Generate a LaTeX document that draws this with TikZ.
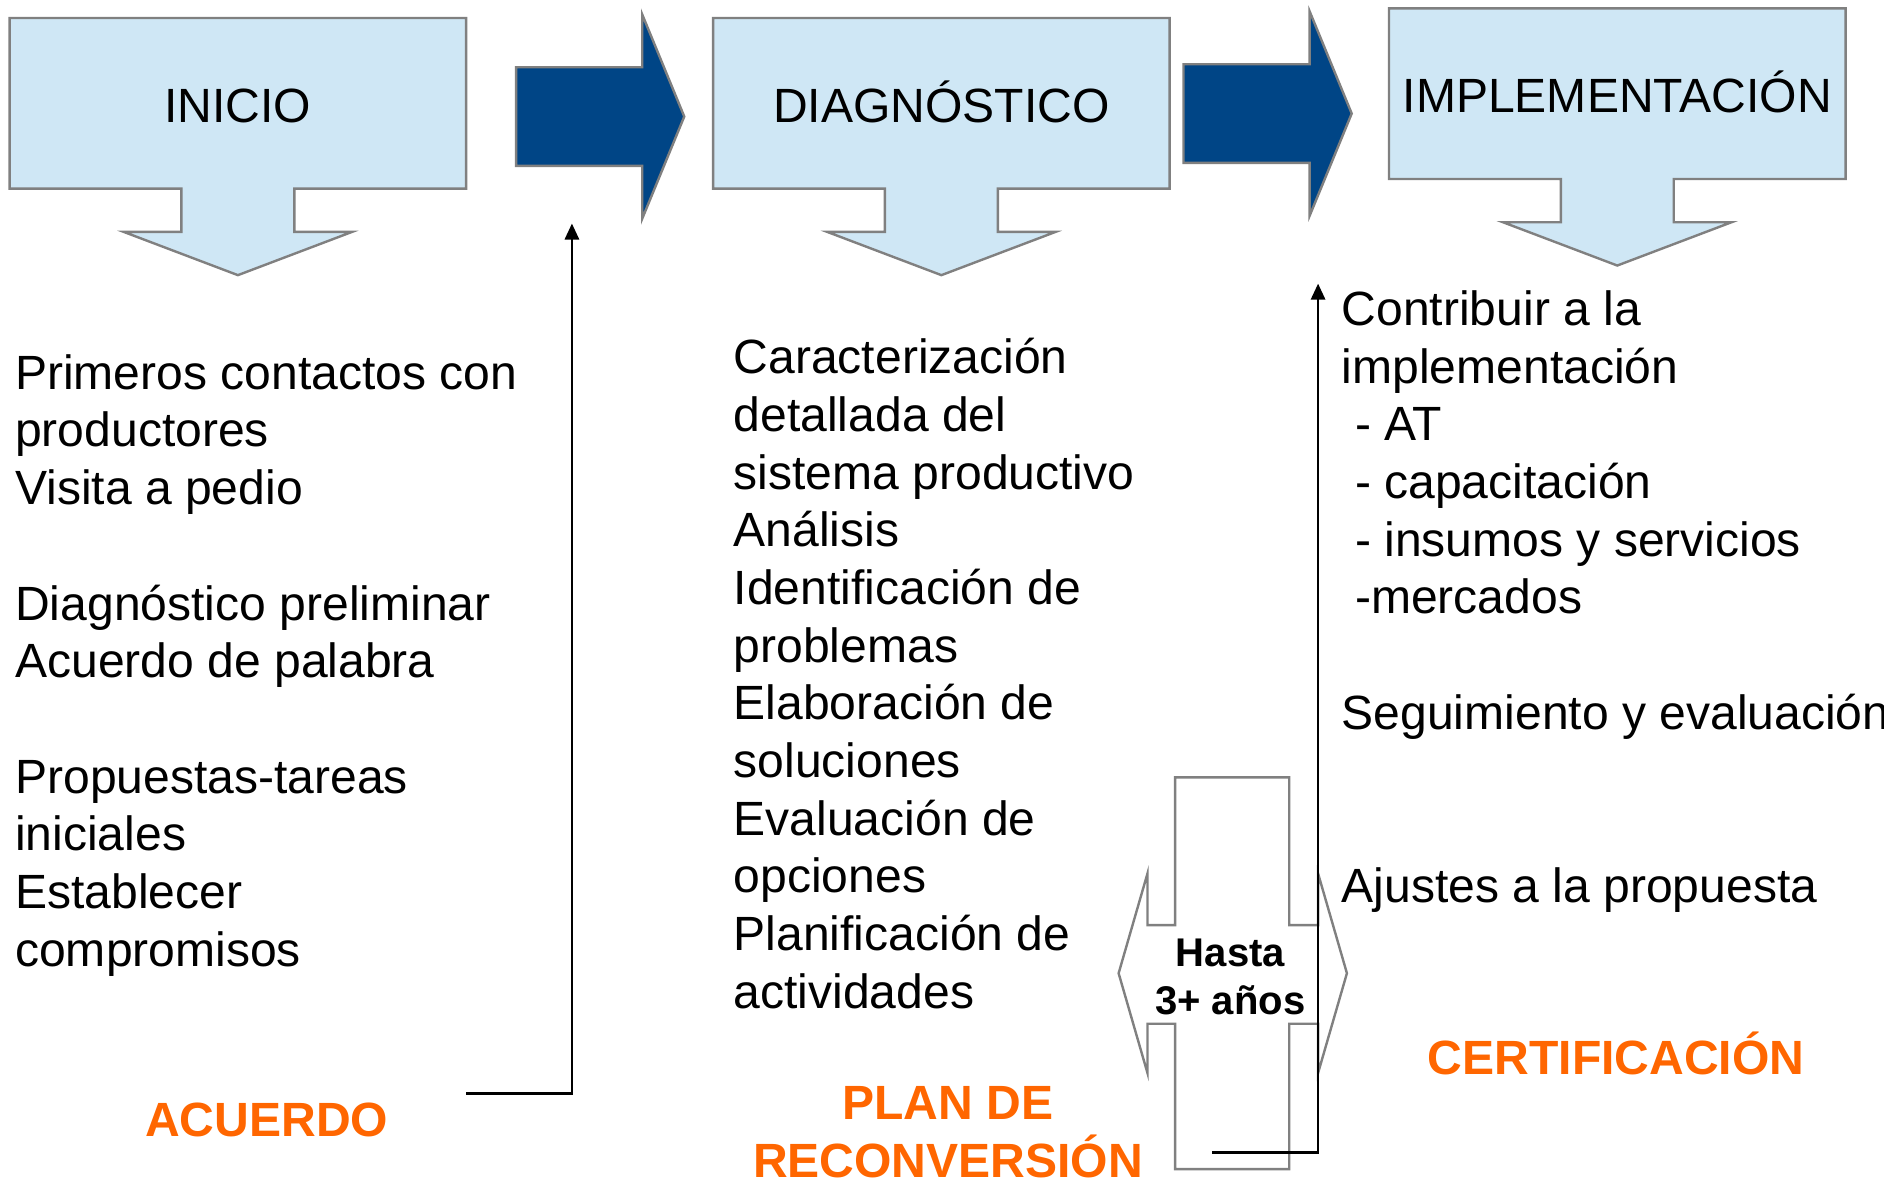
\documentclass[tikz,border=0pt]{standalone}
\usepackage{fontspec}
\setmainfont{Liberation Sans}
\usetikzlibrary{arrows.meta}

\definecolor{boxblue}{RGB}{207,231,245}
\definecolor{boxgray}{RGB}{128,128,128}
\definecolor{darkblue}{RGB}{0,69,134}
\definecolor{phaseorange}{RGB}{255,102,0}

\tikzset{
  stagebox/.style={fill=boxblue, draw=boxgray, line width=0.6pt},
  flowarrow/.style={fill=darkblue, draw=boxgray, line width=0.6pt},
  title/.style={anchor=base, inner sep=0pt, font=\fontsize{12}{14.4}\selectfont},
  body/.style={anchor=base west, align=left, inner sep=0pt, font=\fontsize{12}{14.4}\selectfont},
  phase/.style={anchor=base, align=center, inner sep=0pt, text=phaseorange, font=\bfseries\fontsize{12}{14.4}\selectfont},
  conn/.style={line width=0.7pt, -{Triangle[length=4pt,width=3.5pt]}},
  stage/.pic={
    \path[stagebox] (-190,0) -- (190,0) -- (190,142) -- (47,142) -- (47,178)
      -- (95,178) -- (0,214) -- (-95,178) -- (-47,178) -- (-47,142)
      -- (-190,142) -- cycle;
  },
  flow/.pic={
    \path[flowarrow] (0,-41) -- (105,-41) -- (105,-85) -- (140,0) -- (105,85)
      -- (105,41) -- (0,41) -- cycle;
  },
}

\begin{document}
\begin{tikzpicture}[x=0.3pt, y=-0.3pt]
\useasboundingbox (0,0) rectangle (1568,985);

% stages and arrows between them
\pic at (198,15) {stage};
\pic at (783.5,15) {stage};
\pic at (1346,7) {stage};
\pic at (429.5,97) {flow};
\pic at (985,94.5) {flow};

\node[title] (inicio) at (198,102) {INICIO};
\node[title] (diag) at (783.5,102) {DIAGNÓSTICO};
\node[title] (impl) at (1346,94) {IMPLEMENTACIÓN};

% texts under each stage (base = last line)
\node[body] (tinicio) at (12,804) {Primeros contactos con\\productores\\Visita a pedio\\[14.4pt]
  Diagnóstico preliminar\\Acuerdo de palabra\\[14.4pt]
  Propuestas-tareas\\iniciales\\Establecer\\compromisos};
\node[body] (tdiag) at (610,839) {Caracterización\\detallada del\\sistema productivo\\Análisis\\
  Identificación de\\problemas\\Elaboración de\\soluciones\\Evaluación de\\opciones\\
  Planificación de\\actividades};
\node[body] (timpl) at (1116,751) {Contribuir a la\\implementación\\\ - AT\\\ - capacitación\\
  \ - insumos y servicios\\\ -mercados\\[14.4pt]Seguimiento y evaluación\\[28.8pt]
  Ajustes a la propuesta};

% phases
\node[phase] (acuerdo) at (222,946) {ACUERDO};
\node[phase] (plan) at (789,980) {PLAN DE\\RECONVERSIÓN};
\node[phase] (certif) at (1345,894) {CERTIFICACIÓN};

% duration
\draw[boxgray, line width=0.6pt] (978,647) -- (1073,647) -- (1073,770) -- (1097,770)
  -- (1097,727) -- (1121,810) -- (1097,893) -- (1097,852) -- (1073,852)
  -- (1073,973) -- (978,973) -- (978,852) -- (955,852) -- (955,893)
  -- (931,810) -- (955,727) -- (955,770) -- (978,770) -- cycle;
\node[anchor=base, align=center, inner sep=0pt, font=\bfseries\fontsize{10}{12}\selectfont]
  (hasta) at (1024,844) {Hasta\\3+ años};

% connectors
\coordinate (c1s) at (388,910);
\coordinate (c1e) at (476,186);
\coordinate (c2s) at (1009,959);
\coordinate (c2e) at (1097,236);
\draw[conn] (c1s) -| (c1e);
\draw[conn] (c2s) -| (c2e);
\end{tikzpicture}
\end{document}
